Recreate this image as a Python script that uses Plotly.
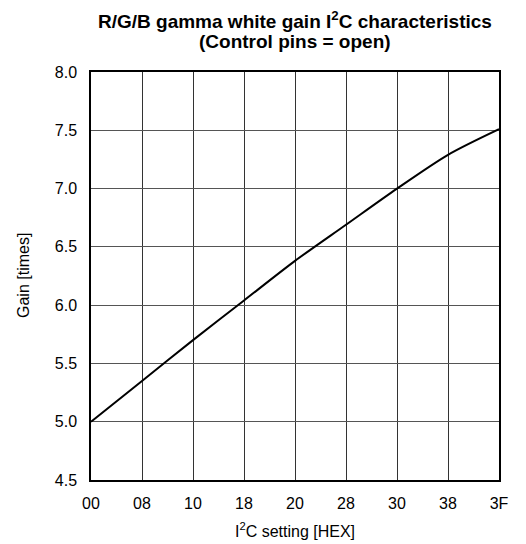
import plotly.graph_objects as go

settings = ["00", "08", "10", "18", "20", "28", "30", "38", "3F"]
gain = [5.00, 5.35, 5.70, 6.04, 6.38, 6.69, 7.00, 7.29, 7.51]
y_ticks = [4.5, 5.0, 5.5, 6.0, 6.5, 7.0, 7.5, 8.0]
title_lines = ["R/G/B gamma white gain I<sup>2</sup>C characteristics", "(Control pins = open)"]
x_title = "I<sup>2</sup>C setting [HEX]"
y_title = "Gain [times]"

fig = go.Figure()
fig.add_trace(go.Scatter(
    x=settings, y=gain, mode="lines",
    line=dict(color="black", width=2, shape="spline", smoothing=0.8),
    showlegend=False, hoverinfo="skip",
))

font = "Liberation Sans, Arial, sans-serif"
fig.update_layout(
    width=526, height=544,
    margin=dict(l=91, r=27, t=72, b=64),
    paper_bgcolor="white", plot_bgcolor="white",
    font=dict(family=font, color="black", size=16),
    xaxis=dict(
        type="category", range=[0, 8],
        tickmode="array", tickvals=settings, ticktext=settings,
        showgrid=True, gridcolor="#333", gridwidth=1,
        showline=True, linecolor="black", linewidth=1.5, mirror=True,
        ticks="", ticklabelstandoff=8,
        tickfont=dict(size=16),
        zeroline=False,
    ),
    yaxis=dict(
        range=[4.5, 8.0],
        tickmode="array", tickvals=y_ticks, ticktext=[f"{v:.1f}" for v in y_ticks],
        showgrid=True, gridcolor="#555", gridwidth=1,
        showline=True, linecolor="black", linewidth=1.5, mirror=True,
        ticks="", ticklabelstandoff=9,
        tickfont=dict(size=16),
        zeroline=False,
    ),
)

fig.add_annotation(text="<b>" + title_lines[0] + "</b>", xref="paper", yref="paper",
                   x=0.5, y=1, yshift=52, xanchor="center", yanchor="middle",
                   showarrow=False, font=dict(family=font, size=19, color="black"))
fig.add_annotation(text="<b>" + title_lines[1] + "</b>", xref="paper", yref="paper",
                   x=0.5, y=1, yshift=31, xanchor="center", yanchor="middle",
                   showarrow=False, font=dict(family=font, size=19, color="black"))
fig.add_annotation(text=x_title, xref="paper", yref="paper",
                   x=0.5, y=0, yshift=-50, xanchor="center", yanchor="middle",
                   showarrow=False, font=dict(family=font, size=16, color="black"))
fig.add_annotation(text=y_title, xref="paper", yref="paper",
                   x=0, xshift=-68, y=0.5, xanchor="center", yanchor="middle",
                   textangle=-90, showarrow=False, font=dict(family=font, size=16, color="black"))

fig.write_html("out.html", config={"displayModeBar": False},
               post_script="document.body.style.margin='0';document.body.style.overflow='hidden';")
